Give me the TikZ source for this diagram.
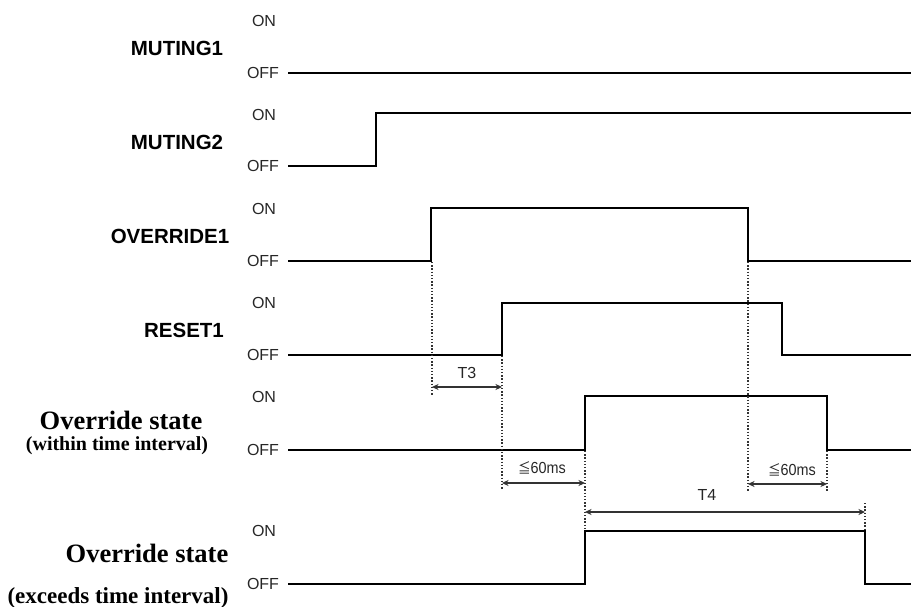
\documentclass[tikz,border=0pt]{standalone}
\usepackage{fontspec}
\setmainfont{Liberation Sans}
\newfontfamily\serifb{Liberation Serif}
\newfontfamily\cjk{Noto Sans CJK JP}
\usetikzlibrary{arrows.meta}
\begin{document}
\begin{tikzpicture}[x=1pt,y=-1pt,
  sig/.style={line width=2.3pt, line join=miter},
  guide/.style={line width=1.2pt, draw=black!80, dash pattern=on 1.3pt off 1.9pt},
  dim/.style={line width=1.1pt, draw=black!80, {Stealth[length=6.5pt,width=6pt,inset=2pt]}-{Stealth[length=6.5pt,width=6pt,inset=2pt]}},
  sname/.style={font=\bfseries\fontsize{20.5}{20.5}\selectfont, inner sep=0},
  st/.style={font=\fontsize{16}{16}\selectfont, text=black!85, inner sep=0},
  ovr/.style={font=\serifb\bfseries\fontsize{26.5}{26.5}\selectfont, inner sep=0},
  ovrsub/.style={font=\serifb\bfseries\fontsize{20}{20}\selectfont, inner sep=0},
  ovrsubb/.style={font=\serifb\bfseries\fontsize{23}{23}\selectfont, inner sep=0},
  dlab/.style={font=\fontsize{16}{16}\selectfont, text=black!85, inner sep=0}
]
\useasboundingbox (0,0) rectangle (911,607);

% signal names
\node[sname] (n1) at (177,48) {MUTING1};
\node[sname] (n2) at (177,142) {MUTING2};
\node[sname] (n3) at (170,236) {OVERRIDE1};
\node[sname] (n4) at (184,330) {RESET1};
\node[ovr] (n5) at (121,420) {Override state};
\node[ovrsub] (n5b) at (117,446) {(within time interval)};
\node[ovr] (n6) at (147,553) {Override state};
\node[ovrsubb] (n6b) at (118,598) {(exceeds time interval)};

% ON / OFF labels
\foreach \k/\on/\off in {1/21/73, 2/115/166, 3/209/261, 4/303/355, 5/397/450, 6/531/584}{
  \node[st] (on\k) at (264,\on) {ON};
  \node[st] (off\k) at (263,\off) {OFF};
}

% waveforms
\draw[sig] (288,73) -- (911,73);
\draw[sig] (288,166) -- (376,166) -- (376,113) -- (911,113);
\draw[sig] (288,261) -- (431,261) -- (431,208) -- (748,208) -- (748,261) -- (911,261);
\draw[sig] (288,355) -- (502,355) -- (502,303) -- (782,303) -- (782,355) -- (911,355);
\draw[sig] (288,450) -- (585,450) -- (585,396) -- (827,396) -- (827,450) -- (911,450);
\draw[sig] (288,584) -- (585,584) -- (585,531) -- (865,531) -- (865,584) -- (911,584);

% guide coordinates
\coordinate (g1a) at (432,262); \coordinate (g1b) at (432,395);
\coordinate (g2a) at (502,356); \coordinate (g2b) at (502,489);
\coordinate (g3a) at (748,262); \coordinate (g3b) at (748,491);
\coordinate (g4a) at (827,451); \coordinate (g4b) at (827,492);
\coordinate (g5a) at (585,451); \coordinate (g5b) at (585,530);
\coordinate (g6a) at (865,503); \coordinate (g6b) at (865,530);
\foreach \g in {1,...,6}{ \draw[guide] (g\g a) -- (g\g b); }

% dimension arrows
\coordinate (t3a) at (432,387); \coordinate (t3b) at (502,387);
\coordinate (d1a) at (502,483); \coordinate (d1b) at (585,483);
\coordinate (d2a) at (748,484); \coordinate (d2b) at (827,484);
\coordinate (t4a) at (585,512); \coordinate (t4b) at (865,512);
\draw[dim] (t3a) -- (t3b);
\draw[dim] (d1a) -- (d1b);
\draw[dim] (d2a) -- (d2b);
\draw[dim] (t4a) -- (t4b);
\node[dlab] (lt3) at (467,373) {T3};
\node[dlab] (ld1) at (542,468) {\scalebox{0.9}[1]{{\cjk\fontsize{14}{14}\selectfont ≦}60ms}};
\node[dlab] (ld2) at (792,470) {\scalebox{0.9}[1]{{\cjk\fontsize{14}{14}\selectfont ≦}60ms}};
\node[dlab] (lt4) at (707,495) {T4};
\end{tikzpicture}
\end{document}
